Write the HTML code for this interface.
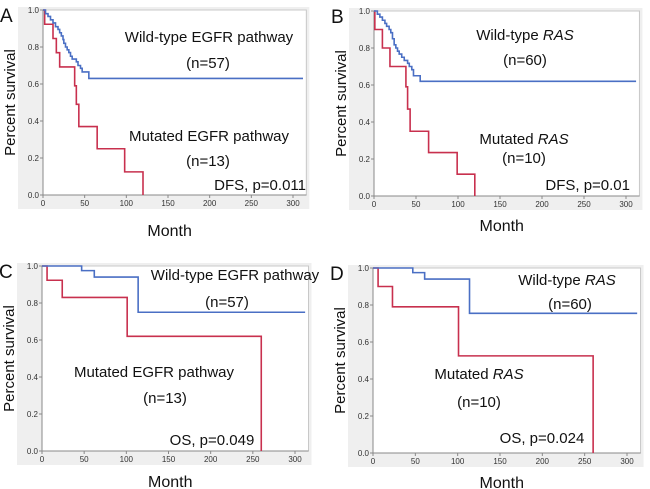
<!DOCTYPE html>
<html><head><meta charset="utf-8"><style>
body{margin:0;background:#fff;}
svg{display:block;font-family:"Liberation Sans",Arial,sans-serif;}
</style></head><body>
<svg id="c" width="650" height="489" viewBox="0 0 650 489"></svg>
<script>
// Panel A DFS EGFR
const aBlueT=[0,3,6,9,12,15,18,20,22,24,25,27,29,31,33,35,40,42,45,47,55,312];
const aBlueS=[1,0.98,0.965,0.947,0.93,0.91,0.895,0.877,0.86,0.84,0.82,0.8,0.785,0.77,0.75,0.735,0.72,0.70,0.685,0.665,0.63,0.63];
const aRedT=[0,2,12,16,20,38,40,43,65,98,120];
const aRedS=[1,0.923,0.846,0.769,0.692,0.59,0.49,0.37,0.25,0.125,0];
// Panel B DFS RAS
const bBlueT=[0,4,7,10,13,15,18,20,22,24,26,28,30,33,36,40,42,45,47,55,312];
const bBlueS=[1,0.983,0.967,0.95,0.933,0.917,0.9,0.883,0.85,0.817,0.8,0.783,0.767,0.75,0.733,0.717,0.7,0.683,0.65,0.62,0.62];
const bRedT=[0,1,10,19,38,40,43,65,99,120];
const bRedS=[1,0.9,0.8,0.7,0.59,0.47,0.35,0.235,0.118,0];
// Panel C OS EGFR
const cBlueT=[0,47,62,114,312];
const cBlueS=[1,0.975,0.94,0.75,0.75];
const cRedT=[0,6,24,101,260];
const cRedS=[1,0.923,0.83,0.62,0];
// Panel D OS RAS
const dBlueT=[0,47,61,114,312];
const dBlueS=[1,0.975,0.94,0.755,0.755];
const dRedT=[0,6,23,101,260];
const dRedS=[1,0.9,0.79,0.525,0];
const xTicks=[0,50,100,150,200,250,300];
const yTicks=[0,0.2,0.4,0.6,0.8,1.0];

const NS="http://www.w3.org/2000/svg";
const svg=document.getElementById('c');
function mk(tag,attrs,parent){const e=document.createElementNS(NS,tag);for(const k in attrs)e.setAttribute(k,attrs[k]);(parent||svg).appendChild(e);return e;}

const panels=[
 {id:'a',letter:'A',x0:43,x300:293,y1:10,y0:195,bt:aBlueT,bs:aBlueS,rt:aRedT,rs:aRedS,monthY:236,
  texts:[["Wild-type EGFR pathway",209,42,"middle"],["(n=57)",208,68,"middle"],["Mutated EGFR pathway",209,141,"middle"],["(n=13)",208,166,"middle"],["DFS, p=0.011",306,190,"end"]]},
 {id:'b',letter:'B',x0:374,x300:626,y1:11,y0:196,bt:bBlueT,bs:bBlueS,rt:bRedT,rs:bRedS,monthY:231,
  texts:[["Wild-type |RAS",525,40,"middle"],["(n=60)",525,65,"middle"],["Mutated |RAS",524,144,"middle"],["(n=10)",524,163,"middle"],["DFS, p=0.01",630,190,"end"]]},
 {id:'c',letter:'C',x0:42,x300:295,y1:266,y0:451,bt:cBlueT,bs:cBlueS,rt:cRedT,rs:cRedS,monthY:487,
  texts:[["Wild-type EGFR pathway",235,280,"middle"],["(n=57)",227,307,"middle"],["Mutated EGFR pathway",154,377,"middle"],["(n=13)",165,403,"middle"],["OS, p=0.049",212,445,"middle"]]},
 {id:'d',letter:'D',x0:373,x300:627,y1:268,y0:453,bt:dBlueT,bs:dBlueS,rt:dRedT,rs:dRedS,monthY:488,
  texts:[["Wild-type |RAS",567,285,"middle"],["(n=60)",570,309,"middle"],["Mutated |RAS",479,379,"middle"],["(n=10)",479,407,"middle"],["OS, p=0.024",542,443,"middle"]]}
];

panels.forEach(p=>{
  const sx=t=>p.x0+(p.x300-p.x0)*t/300;
  const sy=s=>p.y0-(p.y0-p.y1)*s;
  const g=mk('g',{});
  
  
  const right=sx(316);
  const bg=mk('rect',{x:p.x0-25,y:p.y1-3,width:right-p.x0+28,height:p.y0-p.y1+17,fill:'#efefef'},g);
  
  
  const pa=mk('rect',{x:p.x0,y:p.y1,width:right-p.x0,height:p.y0-p.y1,fill:'#fff',stroke:'#c8c8c8','stroke-width':1},g);
  
  
  mk('line',{x1:p.x0,y1:p.y1,x2:p.x0,y2:p.y0,stroke:'#888'},g);
  mk('line',{x1:p.x0,y1:p.y0,x2:right,y2:p.y0,stroke:'#888'},g);
  yTicks.forEach(v=>{
    mk('line',{x1:p.x0-3,x2:p.x0,y1:sy(v),y2:sy(v),stroke:'#888'},g);
    const t=mk('text',{x:p.x0-4,y:sy(v)+3,'font-size':8,fill:'#333','text-anchor':'end'},g);
    t.textContent=v.toFixed(1);
    
    
  });
  xTicks.forEach(v=>{
    mk('line',{x1:sx(v),x2:sx(v),y1:p.y0,y2:p.y0+3,stroke:'#888'},g);
    const t=mk('text',{x:sx(v),y:p.y0+11,'font-size':8,fill:'#333','text-anchor':'middle'},g);
    t.textContent=v;
    
    
  });
  function step(T,S,color,name){
    let d='M'+sx(T[0])+','+sy(S[0]);
    for(let i=1;i<T.length;i++){d+=' H'+sx(T[i])+' V'+sy(S[i]);}
    const e=mk('path',{d:d,fill:'none',stroke:color,'stroke-width':1.6},g);
    
    
  }
  step(p.rt,p.rs,'#c8304e','mutated-curve');
  step(p.bt,p.bs,'#4a6fc4','wild-type-curve');
  p.texts.forEach(([s,x,y,a])=>{
    const t=mk('text',{x:x,y:y,'font-size':15,fill:'#111','text-anchor':a},g);
    
    
    if(s.includes('|')){const [a1,a2]=s.split('|');
      const s1=mk('tspan',{},t);s1.textContent=a1;
      const s2=mk('tspan',{'font-style':'italic'},t);s2.textContent=a2;}
    else t.textContent=s;
  });
  const L=mk('text',{x:p.x0-43,y:p.y1+12,'font-size':19,fill:'#111'},g);
  L.textContent=p.letter;
  
  
  const yl=mk('text',{x:0,y:0,'font-size':15,fill:'#111','text-anchor':'middle',transform:`translate(${p.x0-28},${(p.y0+p.y1)/2}) rotate(-90)`},g);
  yl.textContent='Percent survival';
  
  
  const xl=mk('text',{x:(p.x0+right)/2-5,y:p.monthY,'font-size':16,fill:'#111','text-anchor':'middle'},g);
  xl.textContent='Month';
  
  
});
</script>
</body></html>
